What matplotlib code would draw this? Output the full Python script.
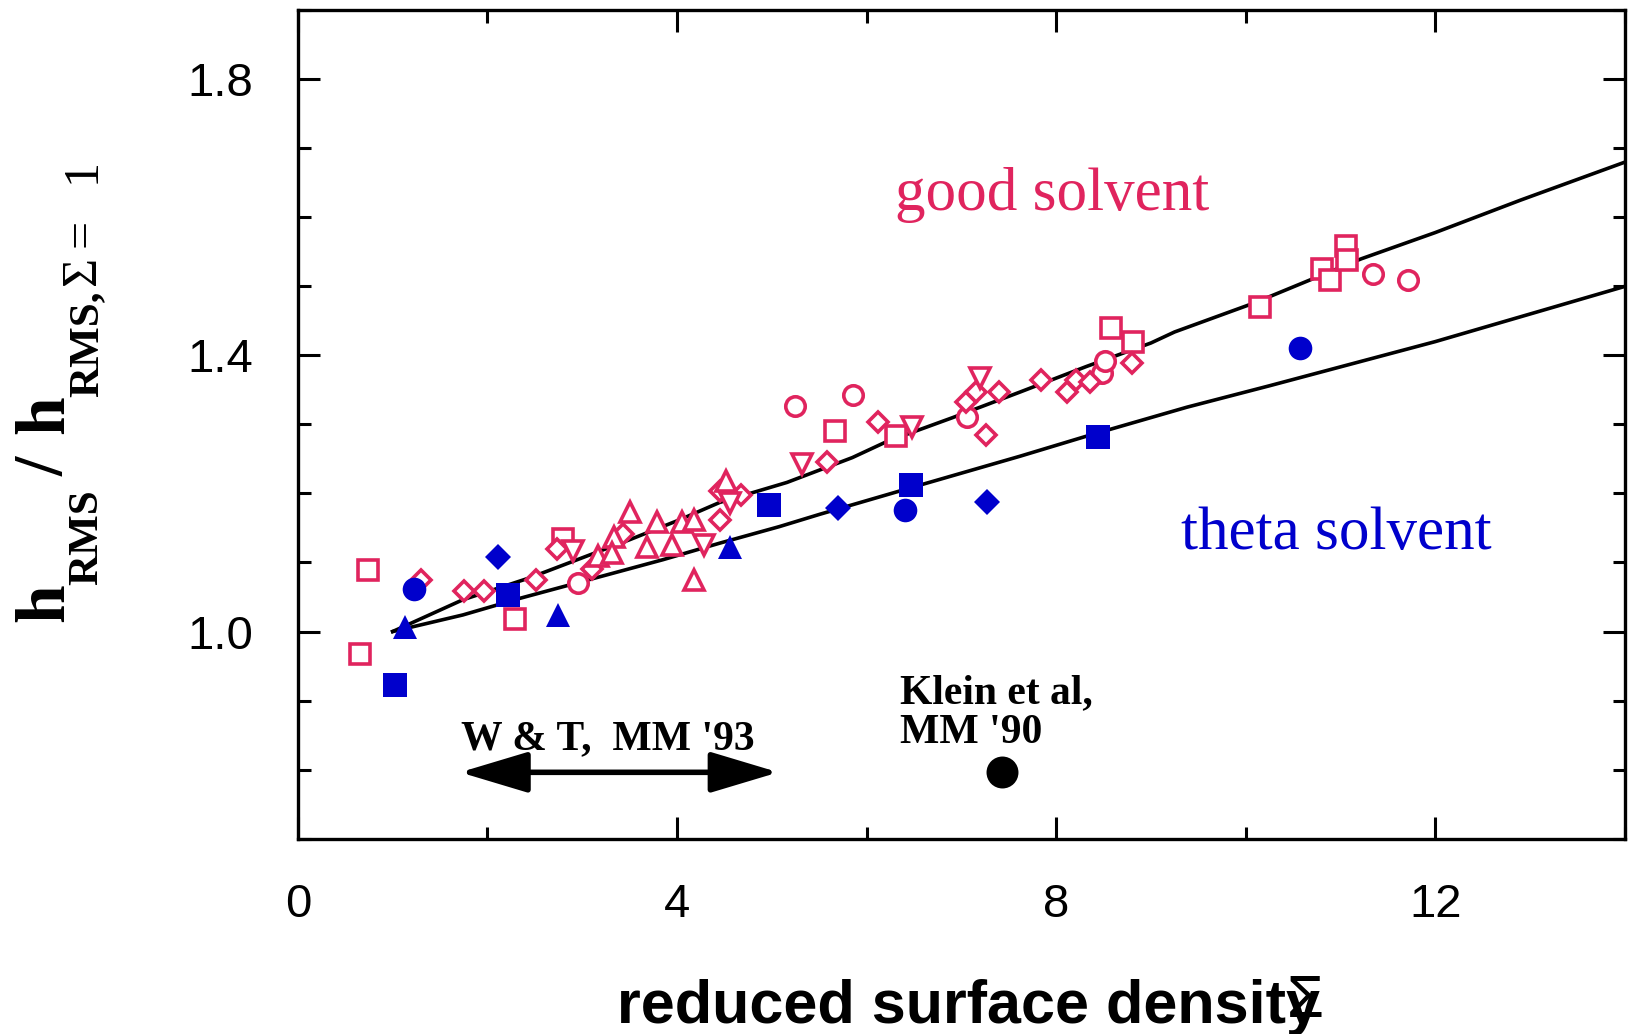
import matplotlib
matplotlib.use("Agg")
import matplotlib.pyplot as plt
from matplotlib.ticker import MultipleLocator

PINK = '#E0245E'
BLUE = '#0000CC'

# model curves
good_x = [1.0, 1.74, 2.45, 2.87, 3.5, 4.03, 4.45, 5.16, 5.85, 6.21, 6.91, 7.62, 8.32, 9.0, 9.25, 10.09, 11.22, 12.0, 12.9, 13.5, 14.0]
good_y = [1.0, 1.046, 1.078, 1.10, 1.133, 1.162, 1.187, 1.216, 1.252, 1.275, 1.31, 1.347, 1.384, 1.418, 1.434, 1.476, 1.54, 1.578, 1.625, 1.655, 1.68]
theta_x = [1.0, 1.74, 2.34, 3.15, 3.85, 4.45, 5.08, 5.51, 6.56, 7.62, 8.32, 9.38, 10.25, 12.0, 14.0]
theta_y = [1.0, 1.024, 1.048, 1.078, 1.104, 1.128, 1.152, 1.170, 1.212, 1.254, 1.283, 1.325, 1.356, 1.42, 1.50]

# good solvent (open pink)
gs_sq_x = [0.74, 0.65, 2.29, 2.80, 5.67, 6.31, 8.58, 8.81, 10.15, 10.81, 10.89, 11.06, 11.07]
gs_sq_y = [1.089, 0.968, 1.018, 1.134, 1.290, 1.284, 1.44, 1.42, 1.47, 1.525, 1.509, 1.559, 1.538]
gs_ci_x = [2.96, 5.24, 5.86, 7.06, 8.48, 8.52, 11.34, 11.71]
gs_ci_y = [1.071, 1.327, 1.342, 1.311, 1.375, 1.392, 1.518, 1.509]
gs_di_x = [1.30, 1.75, 1.96, 2.51, 2.73, 3.10, 3.43, 4.45, 4.45, 4.67, 5.58, 6.12, 7.26, 7.05, 7.16, 7.40, 7.84, 8.11, 8.21, 8.36, 8.80]
gs_di_y = [1.074, 1.059, 1.059, 1.074, 1.119, 1.09, 1.141, 1.203, 1.162, 1.198, 1.245, 1.303, 1.285, 1.333, 1.347, 1.347, 1.365, 1.347, 1.365, 1.362, 1.389]
gs_tu_x = [3.50, 3.79, 4.05, 4.18, 3.68, 3.95, 3.34, 3.17, 3.31, 4.18, 4.52]
gs_tu_y = [1.173, 1.158, 1.158, 1.162, 1.122, 1.126, 1.137, 1.11, 1.114, 1.075, 1.218]
gs_td_x = [2.90, 4.29, 4.56, 5.32, 6.48, 7.20]
gs_td_y = [1.116, 1.126, 1.186, 1.242, 1.297, 1.368]

# theta solvent (filled blue)
th_sq_x = [1.02, 2.22, 4.97, 6.47, 8.44]
th_sq_y = [0.922, 1.053, 1.183, 1.212, 1.282]
th_ci_x = [1.22, 6.41, 10.57]
th_ci_y = [1.062, 1.176, 1.411]
th_tu_x = [1.13, 2.74, 4.56]
th_tu_y = [1.006, 1.024, 1.123]
th_di_x = [2.11, 5.70, 7.27]
th_di_y = [1.108, 1.179, 1.188]

klein_x = [7.43]
klein_y = [0.796]
wt_range = [1.71, 5.07]
wt_y = 0.796

W, H = 1628, 1034
fig = plt.figure(figsize=(W / 100, H / 100), dpi=100)
ax = fig.add_axes([0.183, 0.189, 0.815, 0.801])

ax.plot(good_x, good_y, color='black', lw=2.6, zorder=2)
ax.plot(theta_x, theta_y, color='black', lw=2.6, zorder=2)

ok = dict(ls='none', mfc='white', mec=PINK, mew=2.6, zorder=3)
ax.plot(gs_sq_x, gs_sq_y, marker='s', ms=14, **ok)
ax.plot(gs_ci_x, gs_ci_y, marker='o', ms=14, **ok)
ax.plot(gs_di_x, gs_di_y, marker='D', ms=10, **ok)
ax.plot(gs_tu_x, gs_tu_y, marker='^', ms=14, **ok)
ax.plot(gs_td_x, gs_td_y, marker='v', ms=14, **ok)

fb = dict(ls='none', color=BLUE, mew=0, zorder=4)
ax.plot(th_sq_x, th_sq_y, marker='s', ms=17, **fb)
ax.plot(th_ci_x, th_ci_y, marker='o', ms=17, **fb)
ax.plot(th_tu_x, th_tu_y, marker='^', ms=17, **fb)
ax.plot(th_di_x, th_di_y, marker='D', ms=13, **fb)

ax.plot(klein_x, klein_y, ls='none', marker='o', ms=23, color='black', mew=0, zorder=4)

ax.annotate('', xy=(wt_range[0], wt_y), xytext=(wt_range[1], wt_y),
            arrowprops=dict(arrowstyle='<|-|>,head_length=1.4,head_width=0.42',
                            lw=4, color='black', mutation_scale=30,
                            shrinkA=0, shrinkB=0))

ax.text(1.72, 0.830, "W & T,  MM '93", family='Liberation Serif', weight='bold',
        fontsize=30, ha='left', va='baseline')
ax.text(6.35, 0.896, "Klein et al,", family='Liberation Serif', weight='bold',
        fontsize=30, ha='left', va='baseline')
ax.text(6.35, 0.839, "MM '90", family='Liberation Serif', weight='bold',
        fontsize=30, ha='left', va='baseline')
ax.text(6.30, 1.610, "good solvent", family='Liberation Serif', color=PINK,
        fontsize=44, ha='left', va='baseline')
ax.text(9.32, 1.119, "theta solvent", family='Liberation Serif', color=BLUE,
        fontsize=44, ha='left', va='baseline')

ax.set_xlim(0, 14)
ax.set_ylim(0.7, 1.9)
ax.xaxis.set_major_locator(MultipleLocator(4))
ax.xaxis.set_minor_locator(MultipleLocator(2))
ax.yaxis.set_major_locator(MultipleLocator(0.4))
ax.yaxis.set_minor_locator(MultipleLocator(0.1))
ax.set_yticks([1.0, 1.4, 1.8])
ax.set_yticklabels(['1.0', '1.4', '1.8'])
ax.tick_params(which='both', direction='in', top=True, right=True, width=2.2, color='black')
ax.tick_params(which='major', length=16, pad=32, labelsize=34)
ax.tick_params(which='minor', length=9)
for lab in ax.get_xticklabels() + ax.get_yticklabels():
    lab.set_family('Liberation Sans')
for sp in ax.spines.values():
    sp.set_linewidth(2.4)

# x label
fig.text(0.379, 0.0106, "reduced surface density", family='Liberation Sans',
         weight='bold', fontsize=44, ha='left', va='baseline')
fig.text(0.7906, 0.0164, "\u03a3", family='Liberation Sans', fontsize=43,
         ha='left', va='baseline')

# y label built from pieces (text, weight, size, baseline x px, start y px)
ylabel_pieces = [
    ("h", 'bold', 50, 63, 622),
    ("RMS", 'bold', 31, 97, 585),
    ("/", 'bold', 50, 63, 476),
    ("h", 'bold', 50, 63, 434),
    ("RMS,", 'bold', 31, 97, 397),
    ("\u03a3", 'normal', 36, 95, 285),
    ("=", 'normal', 36, 95, 247),
    ("1", 'normal', 36, 95, 183),
]
for txt, wgt, sz, bx, sy in ylabel_pieces:
    fig.text(bx / W, 1 - sy / H, txt, family='Liberation Serif', weight=wgt,
             fontsize=sz, rotation=90, rotation_mode='anchor',
             ha='left', va='baseline')

fig.savefig('out.png', dpi=100)
